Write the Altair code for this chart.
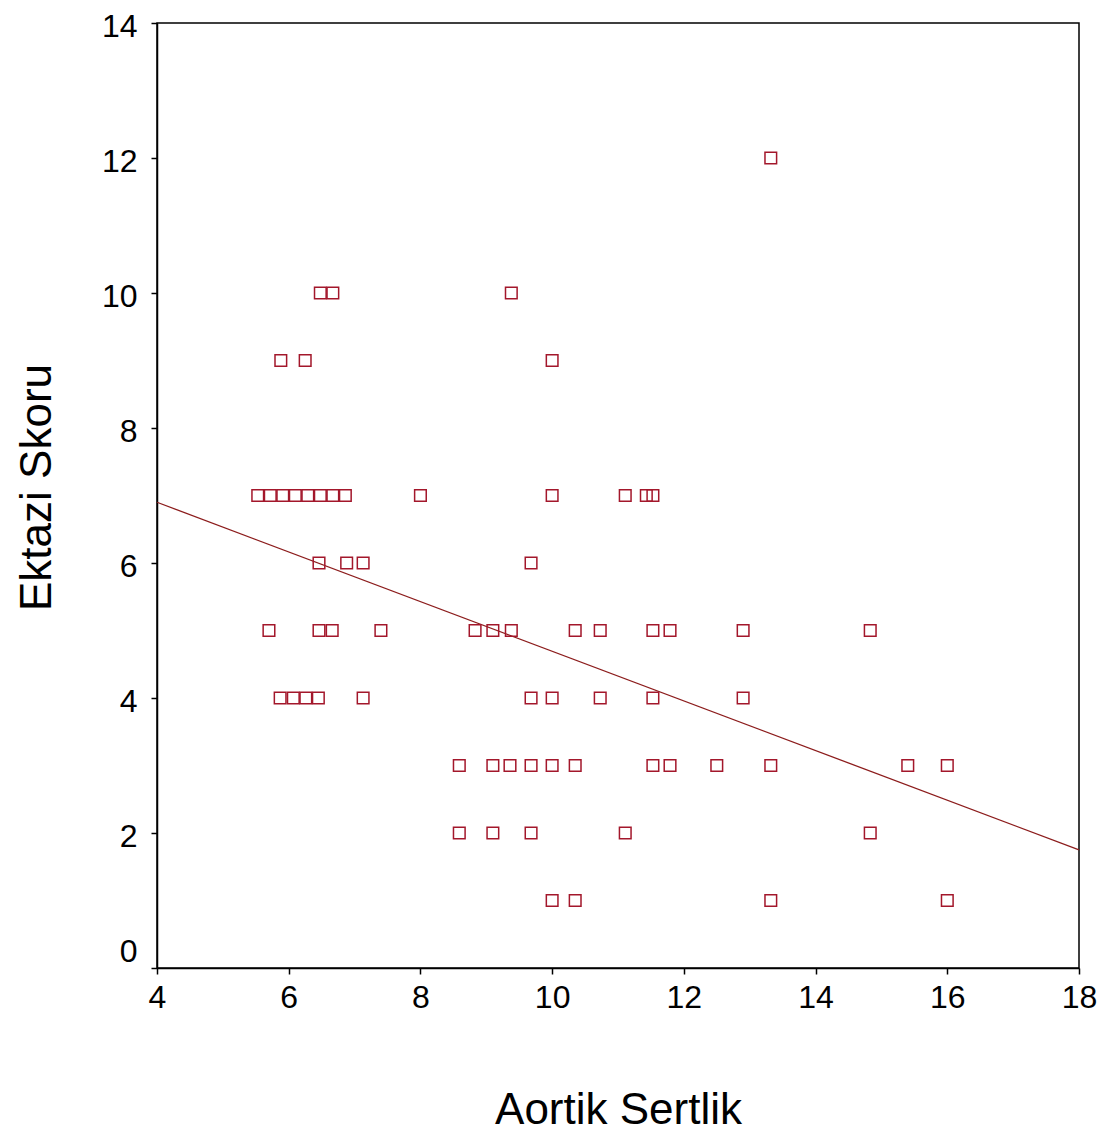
import altair as alt
import pandas as pd

# Aortik Sertlik values for each Ektazi Skoru level
score_12 = [13.32]
score_10 = [6.48, 6.67, 9.38]
score_9 = [5.88, 6.25, 10.0]
score_7 = [5.53, 5.72, 5.91, 6.10, 6.29, 6.48, 6.67, 6.86, 8.0, 10.0, 11.11, 11.43, 11.53]
score_6 = [6.46, 6.88, 7.13, 9.68]
score_5 = [5.70, 6.46, 6.66, 7.40, 8.83, 9.10, 9.38, 10.35, 10.73, 11.53, 11.79, 12.9, 14.83]
score_4 = [5.87, 6.07, 6.26, 6.45, 7.13, 9.68, 10.0, 10.73, 11.53, 12.9]
score_3 = [8.59, 9.10, 9.36, 9.68, 10.0, 10.35, 11.53, 11.79, 12.5, 13.32, 15.4, 16.0]
score_2 = [8.59, 9.10, 9.68, 11.11, 14.83]
score_1 = [10.0, 10.35, 13.32, 16.0]

# fit line end points
fit_x = [4, 18]
fit_y = [6.90, 1.75]

x_ticks = [4, 6, 8, 10, 12, 14, 16, 18]
y_ticks = [0, 2, 4, 6, 8, 10, 12, 14]

rows = []
for score, xs in [(12, score_12), (10, score_10), (9, score_9), (7, score_7),
                  (6, score_6), (5, score_5), (4, score_4), (3, score_3),
                  (2, score_2), (1, score_1)]:
    for v in xs:
        rows.append({"aortik": v, "ektazi": score})
points_df = pd.DataFrame(rows)
line_df = pd.DataFrame({"aortik": fit_x, "ektazi": fit_y})

FONT = "Liberation Sans"

x_enc = alt.X(
    "aortik:Q",
    scale=alt.Scale(domain=[4, 18], nice=False, zero=False),
    axis=alt.Axis(
        values=x_ticks, format="d", labelFlush=False, title="Aortik Sertlik", grid=False,
        labelFontSize=32, titleFontSize=44, labelFont=FONT, titleFont=FONT,
        labelColor="black", titleColor="black", titleFontWeight="normal",
        domainColor="black", domainWidth=1.5, tickColor="black", tickWidth=1.5,
        tickSize=6, labelPadding=8,
        titleX=461, titleY=155, titleBaseline="alphabetic", titleAlign="center",
    ),
)
y_enc = alt.Y(
    "ektazi:Q",
    scale=alt.Scale(domain=[0, 14], nice=False, zero=False),
    axis=alt.Axis(
        values=y_ticks, format="d", labelFlush=False, title="Ektazi Skoru", grid=False,
        labelFontSize=32, titleFontSize=44, labelFont=FONT, titleFont=FONT,
        labelColor="black", titleColor="black", titleFontWeight="normal",
        domainColor="black", domainWidth=1.5, tickColor="black", tickWidth=1.5,
        tickSize=6, labelPadding=14,
        labelOffset={"condition": {"test": "datum.value == 0", "value": -17}, "value": 3},
        titleX=-120, titleY=464, titleAngle=-90, titleBaseline="middle", titleAlign="center",
    ),
)

pts = alt.Chart(points_df).mark_point(
    shape="square", filled=False, color="#a3172b", size=135, strokeWidth=1.5, opacity=1
).encode(x=x_enc, y=y_enc)

fit = alt.Chart(line_df).mark_line(color="#8c1c1c", strokeWidth=1.3).encode(
    x="aortik:Q", y="ektazi:Q"
)

chart = (
    alt.layer(fit, pts)
    .properties(
        width=922, height=945,
        autosize=alt.AutoSizeParams(type="none"),
        padding={"left": 157, "top": 23, "right": 41, "bottom": 174},
        background="white",
    )
    .configure_view(stroke="black", strokeWidth=1.5)
)

chart.save("out.html", embed_options={"renderer": "svg", "actions": False})
